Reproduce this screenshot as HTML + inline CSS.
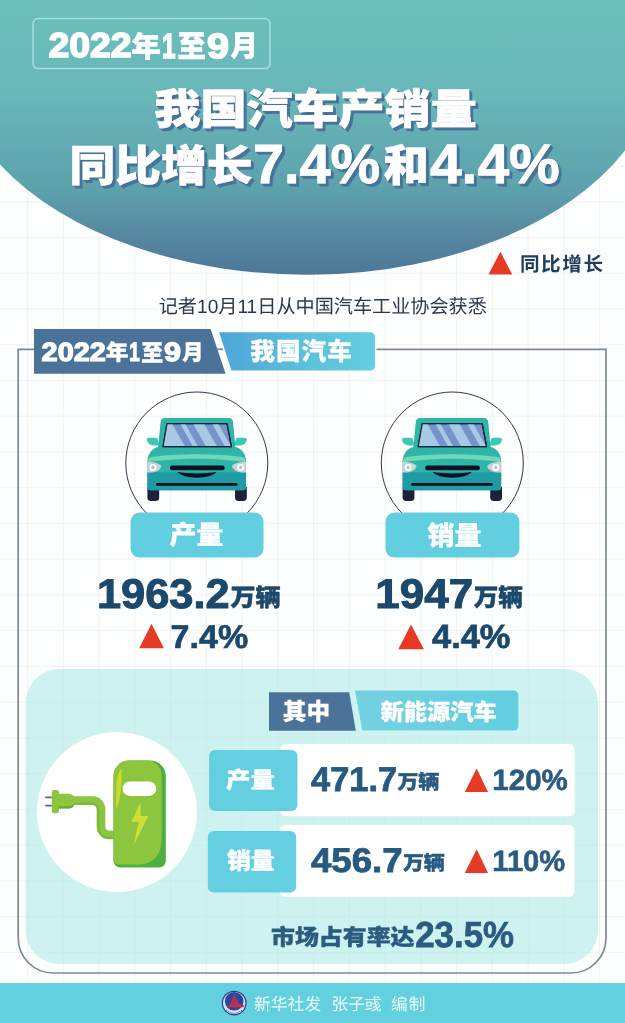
<!DOCTYPE html>
<html lang="zh-CN">
<head>
<meta charset="utf-8">
<title>我国汽车产销量同比增长7.4%和4.4%</title>
<style>
html,body{margin:0;padding:0;background:#fdfefe;}
body{width:625px;height:1023px;overflow:hidden;font-family:"Liberation Sans","Noto Sans CJK SC",sans-serif;}
svg{display:block;}
text{font-family:"Liberation Sans","Noto Sans CJK SC",sans-serif;text-rendering:geometricPrecision;}
</style>
</head>
<body>
<svg width="625" height="1023" viewBox="0 0 625 1023">
<defs>
  <pattern id="grid" x="-8.65" y="22.4" width="35.75" height="35.75" patternUnits="userSpaceOnUse">
    <path d="M0.5 0V35.75M0 0.5H35.75" stroke="#ececec" stroke-width="0.7" fill="none"/>
  </pattern>
  <pattern id="grid2" x="-8.65" y="22.4" width="35.75" height="35.75" patternUnits="userSpaceOnUse">
    <path d="M0.5 0V35.75M0 0.5H35.75" stroke="#c4ede9" stroke-width="0.7" fill="none"/>
  </pattern>
  <linearGradient id="hdr" x1="0" y1="0" x2="0" y2="1">
    <stop offset="0" stop-color="#6cbfbc"/>
    <stop offset="0.35" stop-color="#68b7b9"/>
    <stop offset="0.7" stop-color="#5ca0ac"/>
    <stop offset="0.85" stop-color="#5689a1"/>
    <stop offset="1" stop-color="#4d7798"/>
  </linearGradient>
  <linearGradient id="tag1" x1="0" y1="0" x2="1" y2="0">
    <stop offset="0" stop-color="#4ea5d8"/>
    <stop offset="0.55" stop-color="#5cc0dc"/>
    <stop offset="1" stop-color="#64cfe0"/>
  </linearGradient>
  <linearGradient id="tag2" x1="0" y1="0" x2="1" y2="0">
    <stop offset="0" stop-color="#74d1e2"/>
    <stop offset="1" stop-color="#62cee0"/>
  </linearGradient>
  <filter id="ext" x="-2%" y="-10%" width="106%" height="130%">
    <feFlood flood-color="#47739a" result="c"/>
    <feComposite in="c" in2="SourceAlpha" operator="in" result="s"/>
    <feOffset in="s" dx="1" dy="1" result="s1"/>
    <feOffset in="s" dx="2" dy="2" result="s2"/>
    <feOffset in="s" dx="2.8" dy="2.8" result="s3"/>
    <feMerge><feMergeNode in="s3"/><feMergeNode in="s2"/><feMergeNode in="s1"/><feMergeNode in="SourceGraphic"/></feMerge>
  </filter>
  <clipPath id="wsclip"><path d="M160 78H460L482 193H140Z"/></clipPath>
</defs>

<!-- background -->
<rect width="625" height="1023" fill="#fdfefe"/>
<rect width="625" height="1023" fill="url(#grid)"/>

<!-- header -->
<g id="header">
  <path d="M0 0H625V150.6 A353.6 219.6 0 0 1 0 164.5Z" fill="url(#hdr)"/>
  <rect x="33" y="18.5" width="237" height="50.1" rx="5" fill="none" stroke="#a2dfdd" stroke-width="1.5"/>
</g>
<g id="hdrbox" fill="#ffffff" stroke="#ffffff">
  <text transform="translate(48.39,57.35) scale(1.0793,1)" font-size="34.65" font-weight="700" stroke-width="1.6">2022</text>
  <text transform="translate(131.37,56.65) scale(1.0157,1)" font-size="28.96" font-weight="900" stroke-width="0.5">年</text>
  <text transform="translate(161.94,57.70) scale(0.6902,1)" font-size="35.14" font-weight="700" stroke-width="1.6">1</text>
  <text transform="translate(177.52,57.11) scale(0.9299,1)" font-size="30.51" font-weight="900" stroke-width="0.5">至</text>
  <text transform="translate(207.01,57.70) scale(1.1265,1)" font-size="35.14" font-weight="700" stroke-width="1.6">9</text>
  <text transform="translate(230.50,56.40) scale(0.9463,1)" font-size="28.90" font-weight="900" stroke-width="0.5">月</text>
</g>
<g id="title" fill="#ffffff" stroke="#ffffff" filter="url(#ext)">
  <text transform="translate(154.35,124.00) scale(1.1009,1)" font-size="41.84" font-weight="900" stroke-width="0.6">我国汽车产销量</text>
  <text transform="translate(69.43,180.79) scale(1.0610,1)" font-size="43.12" font-weight="900" stroke-width="0.6">同比增长</text>
  <text transform="translate(252.97,183.12) scale(1.0099,1)" font-size="55.25" font-weight="700" stroke-width="0.8">7.4%</text>
  <text transform="translate(383.39,180.96) scale(1.0391,1)" font-size="43.60" font-weight="900" stroke-width="0.6">和</text>
  <text transform="translate(429.95,183.40) scale(1.0236,1)" font-size="55.65" font-weight="700" stroke-width="0.8">4.4%</text>
</g>

<!-- legend -->
<path d="M500.4 251.7L512.2 274.6H488.4Z" fill="#e73a25"/>
<g id="legendtext">
  <text x="519.93" y="270.94" font-size="19.58" font-weight="700" letter-spacing="1.613" fill="#213f5a" stroke="none">同比增长</text>
  <text transform="translate(158.74,312.97) scale(1.0002,1)" font-size="19.14" font-weight="400" fill="#2b3a4a" stroke="none">记者10月11日从中国汽车工业协会获悉</text>
</g>

<!-- frame -->
<g id="frame" fill="none" stroke="#7d8894" stroke-width="1.7">
  <path d="M34 349.3H18.2V938 A35 35 0 0 0 53.2 973H571 A35 35 0 0 0 606 938V349.3H375"/>
  <path d="M214 349.3H228"/>
</g>

<!-- tags -->
<g id="tags">
  <path d="M34 329H210.6L225.6 373.8H34Z" fill="#4b7399"/>
  <path d="M219.2 332.3H370.5a4.5 4.5 0 0 1 4.5 4.5V366a4.5 4.5 0 0 1 -4.5 4.5H231.4Z" fill="url(#tag1)" stroke="#ffffff" stroke-width="3" paint-order="stroke" stroke-linejoin="round"/>
</g>
<g id="tagtext" fill="#ffffff" stroke="#ffffff">
  <text transform="translate(41.61,360.73) scale(1.1030,1)" font-size="26.18" font-weight="700" stroke-width="1.24">2022</text>
  <text transform="translate(105.69,360.21) scale(1.0379,1)" font-size="21.88" font-weight="900" stroke-width="0.39">年</text>
  <text transform="translate(129.31,361.00) scale(0.7053,1)" font-size="26.56" font-weight="700" stroke-width="1.24">1</text>
  <text transform="translate(141.33,360.55) scale(0.9503,1)" font-size="23.06" font-weight="900" stroke-width="0.39">至</text>
  <text transform="translate(164.11,361.00) scale(1.1512,1)" font-size="26.56" font-weight="700" stroke-width="1.24">9</text>
  <text transform="translate(182.25,360.02) scale(0.9671,1)" font-size="21.84" font-weight="900" stroke-width="0.39">月</text>
  <text x="250.34" y="360.40" font-size="24.54" font-weight="900" letter-spacing="1.084" stroke-width="0.3">我国汽车</text>
</g>

<!-- cars -->
<g id="cars">
  <circle cx="196.8" cy="463" r="71" fill="none" stroke="#2b3b52" stroke-width="1"/>
  <circle cx="452.3" cy="463" r="71" fill="none" stroke="#2b3b52" stroke-width="1"/>
  <g class="car" transform="translate(135,408) scale(0.2)">
    <!-- wheels -->
    <path d="M62 395H121V448a17 17 0 0 1 -17 17H79a17 17 0 0 1 -17 -17Z" fill="#1b2239"/>
    <path d="M500 395H559V448a17 17 0 0 1 -17 17H517a17 17 0 0 1 -17 -17Z" fill="#1b2239"/>
    <!-- mirrors -->
    <path d="M59 157 Q59 149 68 149 H103 Q110 149 113 156 L124 187 H92 Q70 185 61 166 Z" fill="#3ec9b6"/>
    <path d="M559 157 Q559 149 550 149 H515 Q508 149 505 156 L494 187 H526 Q548 185 557 166 Z" fill="#3ec9b6"/>
    <!-- cabin -->
    <path d="M150 50H468a22 22 0 0 1 22 20L504 215H114L128 70a22 22 0 0 1 22 -20Z" fill="#2fb4a8"/>
    <!-- body -->
    <path d="M118 195H500C530 200 552 225 555 262V395a16 16 0 0 1 -16 16H78a16 16 0 0 1 -16 -16V262C66 225 88 200 118 195Z" fill="#2fb4a8"/>
    <!-- lower body darker -->
    <path d="M62 321H555V395a16 16 0 0 1 -16 16H78a16 16 0 0 1 -16 -16Z" fill="#1f9ba4"/>
    <!-- hood highlight -->
    <path d="M64 262 C68 252 74 247 82 245 C200 226 418 226 536 245 C544 247 550 252 554 262 L555 272 C420 247 200 247 62 272Z" fill="#6fd8b6"/>
    <!-- windshield -->
    <path d="M160 78H460L482 193H140Z" fill="#7892cc" stroke="#14263a" stroke-width="6" stroke-linejoin="round"/>
    <g clip-path="url(#wsclip)" fill="#a7c9e4">
      <path d="M100 78H185L250 193H100Z"/>
      <path d="M225 78H250L315 193H290Z"/>
      <path d="M290 78H345L410 193H355Z"/>
      <path d="M385 78H415L480 193H450Z"/>
    </g>
    <path d="M160 78H460L482 193H140Z" fill="none" stroke="#14263a" stroke-width="6" stroke-linejoin="round"/>
    <!-- headlights -->
    <path d="M62 270 C90 268 120 274 132 290 C128 312 100 326 62 322Z" fill="#c9d3d6"/>
    <circle cx="90" cy="297" r="17" fill="#ffffff"/><circle cx="90" cy="297" r="9" fill="#b9c4c9"/>
    <path d="M555 270 C527 268 497 274 485 290 C489 312 517 326 555 322Z" fill="#c9d3d6"/>
    <circle cx="528" cy="297" r="17" fill="#ffffff"/><circle cx="528" cy="297" r="9" fill="#b9c4c9"/>
    <!-- grille -->
    <rect x="175" y="287" width="273" height="24" rx="10" fill="#0c1424"/>
    <path d="M212 319 C260 330 360 330 408 319 C384 358 236 358 212 319Z" fill="#0c1424"/>
    <!-- bumper slit -->
    <rect x="105" y="375" width="408" height="14" rx="7" fill="#0c1424"/>
  </g>
  <g class="car" transform="translate(390.2,408) scale(0.2)">
    <!-- wheels -->
    <path d="M62 395H121V448a17 17 0 0 1 -17 17H79a17 17 0 0 1 -17 -17Z" fill="#1b2239"/>
    <path d="M500 395H559V448a17 17 0 0 1 -17 17H517a17 17 0 0 1 -17 -17Z" fill="#1b2239"/>
    <!-- mirrors -->
    <path d="M59 157 Q59 149 68 149 H103 Q110 149 113 156 L124 187 H92 Q70 185 61 166 Z" fill="#3ec9b6"/>
    <path d="M559 157 Q559 149 550 149 H515 Q508 149 505 156 L494 187 H526 Q548 185 557 166 Z" fill="#3ec9b6"/>
    <!-- cabin -->
    <path d="M150 50H468a22 22 0 0 1 22 20L504 215H114L128 70a22 22 0 0 1 22 -20Z" fill="#2fb4a8"/>
    <!-- body -->
    <path d="M118 195H500C530 200 552 225 555 262V395a16 16 0 0 1 -16 16H78a16 16 0 0 1 -16 -16V262C66 225 88 200 118 195Z" fill="#2fb4a8"/>
    <!-- lower body darker -->
    <path d="M62 321H555V395a16 16 0 0 1 -16 16H78a16 16 0 0 1 -16 -16Z" fill="#1f9ba4"/>
    <!-- hood highlight -->
    <path d="M64 262 C68 252 74 247 82 245 C200 226 418 226 536 245 C544 247 550 252 554 262 L555 272 C420 247 200 247 62 272Z" fill="#6fd8b6"/>
    <!-- windshield -->
    <path d="M160 78H460L482 193H140Z" fill="#7892cc" stroke="#14263a" stroke-width="6" stroke-linejoin="round"/>
    <g clip-path="url(#wsclip)" fill="#a7c9e4">
      <path d="M100 78H185L250 193H100Z"/>
      <path d="M225 78H250L315 193H290Z"/>
      <path d="M290 78H345L410 193H355Z"/>
      <path d="M385 78H415L480 193H450Z"/>
    </g>
    <path d="M160 78H460L482 193H140Z" fill="none" stroke="#14263a" stroke-width="6" stroke-linejoin="round"/>
    <!-- headlights -->
    <path d="M62 270 C90 268 120 274 132 290 C128 312 100 326 62 322Z" fill="#c9d3d6"/>
    <circle cx="90" cy="297" r="17" fill="#ffffff"/><circle cx="90" cy="297" r="9" fill="#b9c4c9"/>
    <path d="M555 270 C527 268 497 274 485 290 C489 312 517 326 555 322Z" fill="#c9d3d6"/>
    <circle cx="528" cy="297" r="17" fill="#ffffff"/><circle cx="528" cy="297" r="9" fill="#b9c4c9"/>
    <!-- grille -->
    <rect x="175" y="287" width="273" height="24" rx="10" fill="#0c1424"/>
    <path d="M212 319 C260 330 360 330 408 319 C384 358 236 358 212 319Z" fill="#0c1424"/>
    <!-- bumper slit -->
    <rect x="105" y="375" width="408" height="14" rx="7" fill="#0c1424"/>
  </g>
  <rect x="130.6" y="512.6" width="132.9" height="45" rx="9" fill="#62cfe0"/>
  <rect x="385.5" y="512.6" width="133.9" height="45" rx="9" fill="#62cfe0"/>
</g>
<g id="carstext" fill="#ffffff" stroke="#ffffff">
  <text transform="translate(169.61,544.40) scale(1.0350,1)" font-size="25.95" font-weight="900" stroke-width="0.3">产量</text>
  <text transform="translate(427.38,544.79) scale(1.0174,1)" font-size="26.56" font-weight="900" stroke-width="0.3">销量</text>
</g>
<g id="tri1" fill="#e73a25">
  <path d="M151.5 623.8L163.9 648.2H139.2Z"/>
  <path d="M411 624.6L423.9 649.3H398.3Z"/>
</g>
<g id="nums" fill="#1c486b" stroke="#1c486b">
  <text transform="translate(96.90,607.98) scale(1.0440,1)" font-size="41.55" font-weight="700" stroke-width="1.0">1963.2</text>
  <text transform="translate(230.40,606.34) scale(1.0312,1)" font-size="24.29" font-weight="900" stroke-width="0.5">万辆</text>
  <text transform="translate(170.59,648.18) scale(1.0286,1)" font-size="33.09" font-weight="700" stroke-width="0.7">7.4%</text>
  <text transform="translate(375.37,607.98) scale(1.0569,1)" font-size="41.55" font-weight="700" stroke-width="1.0">1947</text>
  <text transform="translate(473.70,606.34) scale(1.0123,1)" font-size="24.29" font-weight="900" stroke-width="0.5">万辆</text>
  <text transform="translate(432.03,648.45) scale(1.0281,1)" font-size="33.48" font-weight="700" stroke-width="0.7">4.4%</text>
</g>

<!-- panel -->
<g id="panel">
  <rect x="25.6" y="669" width="572.4" height="295" rx="34" fill="#cdf2ef"/>
  <rect x="25.6" y="669" width="572.4" height="295" rx="34" fill="url(#grid2)"/>
  <circle cx="117" cy="812" r="80" fill="#ffffff"/>
  <g class="charger" transform="translate(35,745) scale(0.24)">
    <!-- prongs -->
    <rect x="42" y="215" width="32" height="7" rx="2" fill="#5b6d7c"/>
    <rect x="42" y="249" width="32" height="7" rx="2" fill="#5b6d7c"/>
    <!-- cable -->
    <path d="M160 232H240a35 35 0 0 1 35 35V340a35 35 0 0 0 35 35H335" fill="none" stroke="#8cc63f" stroke-width="36"/>
    <path d="M160 244H236a27 27 0 0 1 27 27V344a43 43 0 0 0 43 43H335" fill="none" stroke="#6fb63f" stroke-width="10" opacity="0.7"/>
    <!-- plug -->
    <path d="M97 203H140a27 27 0 0 1 27 27V238a27 27 0 0 1 -27 27H97Z" fill="#8cc63f"/>
    <rect x="70" y="188" width="30" height="96" rx="9" fill="#8cc63f"/>
    <path d="M97 255H140a27 27 0 0 0 25 -14 a27 27 0 0 1 -25 24H97Z" fill="#5fae3c"/>
    <!-- body -->
    <path d="M392 65H480a65 65 0 0 1 65 65V482a28 28 0 0 1 -28 28H355a28 28 0 0 1 -28 -28V130a65 65 0 0 1 65 -65Z" fill="#4caf3f"/>
    <path d="M392 65H466a62 62 0 0 1 62 62V380C528 450 505 490 440 498H355a28 28 0 0 1 -28 -16V130a65 65 0 0 1 65 -65Z" fill="#8cc63f"/>
    <!-- highlight -->
    <path d="M360 98 C344 116 338 150 338 192 V268 C354 244 364 160 360 98Z" fill="#c8db2e"/>
    <!-- window -->
    <rect x="365" y="152" width="140" height="60" rx="30" fill="#ffffff"/>
    <!-- bolt -->
    <path d="M440 240L402 320H432L410 420L472 296H440Z" fill="#cfe034"/>
  </g>
  <path d="M269 692.2H349.2L355.8 730.8H269Z" fill="#4b7399"/>
  <path d="M355 690.6H514a4.5 4.5 0 0 1 4.5 4.5V726.1a4.5 4.5 0 0 1 -4.5 4.5H362.2Z" fill="url(#tag2)" stroke="#d3f6f5" stroke-width="3" paint-order="stroke" stroke-linejoin="round"/>
  <rect x="280" y="744" width="294.8" height="72.2" rx="6" fill="#ffffff"/>
  <rect x="279.5" y="825" width="295" height="72" rx="6" fill="#ffffff"/>
  <rect x="209" y="750" width="88.4" height="61" rx="6" fill="#64cfe0"/>
  <rect x="207.8" y="831" width="88.4" height="61.4" rx="6" fill="#64cfe0"/>
  <path d="M476.7 768.6L488 792H464.8Z" fill="#e73a25"/>
  <path d="M476.7 849.3L488 873H464.8Z" fill="#e73a25"/>
</g>
<g id="panelw" fill="#ffffff" stroke="#ffffff">
  <text transform="translate(282.80,720.12) scale(1.0017,1)" font-size="23.59" font-weight="900" stroke-width="0.25">其中</text>
  <text transform="translate(380.46,719.81) scale(1.0283,1)" font-size="22.63" font-weight="900" stroke-width="0.25">新能源汽车</text>
  <text transform="translate(226.04,788.38) scale(1.0744,1)" font-size="22.72" font-weight="900" stroke-width="0.25">产量</text>
  <text transform="translate(226.89,869.15) scale(1.0298,1)" font-size="23.28" font-weight="900" stroke-width="0.25">销量</text>
</g>
<g id="paneln" fill="#275a80" stroke="#275a80">
  <text transform="translate(311.08,791.00) scale(0.9960,1)" font-size="34.49" font-weight="700" stroke-width="0.8">471.7</text>
  <text transform="translate(397.39,789.30) scale(1.0485,1)" font-size="20.00" font-weight="900" stroke-width="0.4">万辆</text>
  <text transform="translate(492.33,790.10) scale(1.0029,1)" font-size="29.43" font-weight="700" fill="#2b5c80" stroke-width="0.6" stroke="#2b5c80">120%</text>
  <text transform="translate(310.95,871.60) scale(1.0714,1)" font-size="34.20" font-weight="700" stroke-width="0.8">456.7</text>
  <text transform="translate(402.89,869.90) scale(1.0485,1)" font-size="20.00" font-weight="900" stroke-width="0.4">万辆</text>
  <text transform="translate(492.36,870.81) scale(0.9922,1)" font-size="29.30" font-weight="700" fill="#2b5c80" stroke-width="0.6" stroke="#2b5c80">110%</text>
  <text transform="translate(270.96,944.57) scale(1.0742,1)" font-size="22.27" font-weight="900" fill="#2b5c80" stroke-width="0.4" stroke="#2b5c80">市场占有率达</text>
  <text transform="translate(415.18,946.60) scale(0.9613,1)" font-size="36.29" font-weight="700" fill="#2b5c80" stroke-width="0.8" stroke="#2b5c80">23.5%</text>
</g>

<!-- footer -->
<rect x="0" y="983" width="625" height="40" fill="#62d0df"/>
<g id="logo">
  <circle cx="234.2" cy="1003.1" r="12.4" fill="#22408e"/>
  <circle cx="234.2" cy="1003.1" r="11.2" fill="#dfe3f3"/>
  <circle cx="234.2" cy="1001.3" r="9.3" fill="#2946a0"/>
  <path d="M234.5 992.9L235.4 996.6L236.9 1000L238.8 1003.8L241.4 1004.6L244.6 1005.4L243.4 1007.3H228.8L228 1005.5L230.2 1004.4L232 1000L233.6 996.6Z" fill="#d82b40"/>
  <path d="M234.5 996V1006M232.4 1001H236.8M231.2 1004H238.2" stroke="#3a4fa6" stroke-width="0.5" fill="none"/>
  <path d="M226.4 1009.8A10.4 10.4 0 0 0 242 1009.8" fill="none" stroke="#4a5aa0" stroke-width="1.2" stroke-dasharray="1.1 0.9"/>
</g>
<g id="footertext" fill="#eafafc">
  <text x="253.93" y="1009.57" font-size="16.77" font-weight="400" letter-spacing="0.082" stroke="none">新华社发</text>
  <text x="331.49" y="1009.57" font-size="16.77" font-weight="400" letter-spacing="-0.113" stroke="none">张子彧</text>
  <text x="390.93" y="1009.58" font-size="16.68" font-weight="400" letter-spacing="1.266" stroke="none">编制</text>
</g>
</svg>
</body>
</html>
